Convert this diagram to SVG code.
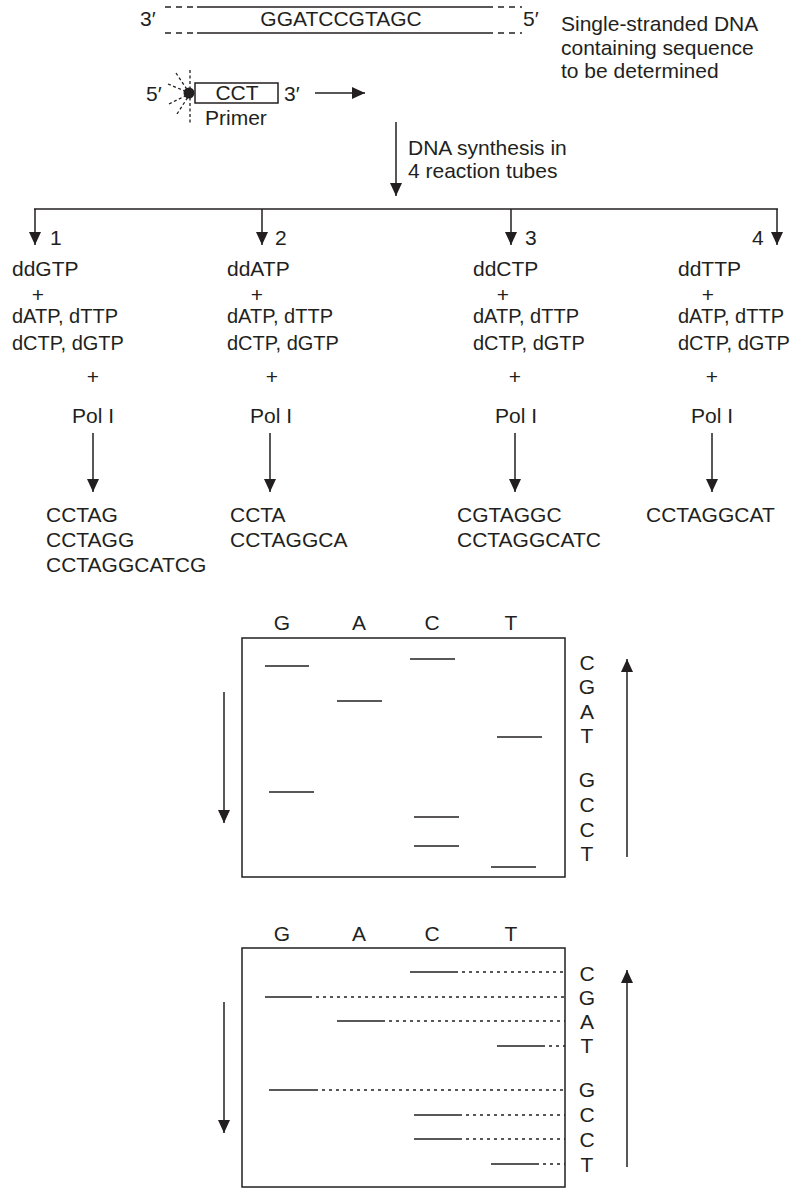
<svg xmlns="http://www.w3.org/2000/svg" width="796" height="1188" viewBox="0 0 796 1188">
<style>
text{font-family:"Liberation Sans",Arial,sans-serif;font-size:21px;fill:#231f20}
text.n{font-size:20px}
.m{text-anchor:middle}
line,rect.b,path.l{stroke:#231f20;stroke-width:1.5;fill:none}
.d{stroke-dasharray:6 5}
.dot{stroke-dasharray:3 4}
.ray{stroke-dasharray:3 2.5;stroke-width:1.3}
</style>
<defs>
<marker id="ah" markerWidth="14" markerHeight="14" refX="13" refY="6" orient="auto" markerUnits="userSpaceOnUse"><path d="M0,0 L13,6 L0,12 z" fill="#231f20"/></marker>
</defs>
<rect x="0" y="0" width="796" height="1188" fill="#fff"/>

<g id="template">
<line x1="197" y1="7" x2="487" y2="7"/>
<line x1="165" y1="7" x2="197" y2="7" class="d"/>
<line x1="487" y1="7" x2="522" y2="7" class="d"/>
<line x1="197" y1="33" x2="487" y2="33"/>
<line x1="165" y1="33" x2="197" y2="33" class="d"/>
<line x1="487" y1="33" x2="522" y2="33" class="d"/>
<text x="140" y="26">3′</text>
<text x="341" y="26" class="m">GGATCCGTAGC</text>
<text x="523" y="26">5′</text>
<text x="561" y="31">Single-stranded DNA</text>
<text x="561" y="55">containing sequence</text>
<text x="561" y="78">to be determined</text>
</g>

<g id="primer">
<line x1="190" y1="70" x2="190" y2="123" class="ray"/>
<line x1="176" y1="73" x2="188" y2="91" class="ray"/>
<line x1="168" y1="84" x2="187" y2="92" class="ray"/>
<line x1="169" y1="104" x2="187" y2="95" class="ray"/>
<line x1="177" y1="114" x2="188" y2="97" class="ray"/>
<circle cx="189" cy="93" r="5.5" fill="#231f20"/>
<rect class="b" x="195" y="83" width="83" height="20"/>
<text x="146" y="101">5′</text>
<text x="237" y="100" class="m">CCT</text>
<text x="284" y="101">3′</text>
<text x="205" y="125">Primer</text>
</g>

<g id="synthesis">
<text x="408" y="155">DNA synthesis in</text>
<text x="408" y="178">4 reaction tubes</text>
</g>

<g id="tube1">
<text x="50" y="245">1</text>
<text x="12" y="276">ddGTP</text>
<text x="38" y="302" class="m">+</text>
<text x="12" y="323" class="n">dATP, dTTP</text>
<text x="12" y="350" class="n">dCTP, dGTP</text>
<text x="93" y="384" class="m">+</text>
<text x="93" y="423" class="m">Pol I</text>
<text x="46" y="522">CCTAG</text>
<text x="46" y="547">CCTAGG</text>
<text x="46" y="572">CCTAGGCATCG</text>
</g>

<g id="tube2">
<text x="275" y="245">2</text>
<text x="227" y="276">ddATP</text>
<text x="257" y="302" class="m">+</text>
<text x="227" y="323" class="n">dATP, dTTP</text>
<text x="227" y="350" class="n">dCTP, dGTP</text>
<text x="272" y="384" class="m">+</text>
<text x="271" y="423" class="m">Pol I</text>
<text x="230" y="522">CCTA</text>
<text x="230" y="547">CCTAGGCA</text>
</g>

<g id="tube3">
<text x="525" y="245">3</text>
<text x="473" y="276">ddCTP</text>
<text x="503" y="302" class="m">+</text>
<text x="473" y="323" class="n">dATP, dTTP</text>
<text x="473" y="350" class="n">dCTP, dGTP</text>
<text x="515" y="384" class="m">+</text>
<text x="516" y="423" class="m">Pol I</text>
<text x="457" y="522">CGTAGGC</text>
<text x="457" y="547">CCTAGGCATC</text>
</g>

<g id="tube4">
<text x="752" y="245">4</text>
<text x="678" y="276">ddTTP</text>
<text x="708" y="302" class="m">+</text>
<text x="678" y="323" class="n">dATP, dTTP</text>
<text x="678" y="350" class="n">dCTP, dGTP</text>
<text x="712" y="384" class="m">+</text>
<text x="712" y="423" class="m">Pol I</text>
<text x="646" y="522">CCTAGGCAT</text>
</g>

<g id="connectors">
<line x1="315" y1="93" x2="365" y2="93" marker-end="url(#ah)"/>
<line x1="396" y1="122" x2="396" y2="196" marker-end="url(#ah)"/>
<line x1="34" y1="209" x2="778" y2="209"/>
<line x1="35" y1="209" x2="35" y2="245" marker-end="url(#ah)"/>
<line x1="262" y1="209" x2="262" y2="245" marker-end="url(#ah)"/>
<line x1="511" y1="209" x2="511" y2="245" marker-end="url(#ah)"/>
<line x1="777" y1="209" x2="777" y2="245" marker-end="url(#ah)"/>
<line x1="93" y1="433" x2="93" y2="492" marker-end="url(#ah)"/>
<line x1="270" y1="433" x2="270" y2="492" marker-end="url(#ah)"/>
<line x1="515" y1="433" x2="515" y2="492" marker-end="url(#ah)"/>
<line x1="712" y1="433" x2="712" y2="492" marker-end="url(#ah)"/>
</g>

<g id="gel1">
<rect class="b" x="242" y="638" width="323" height="239"/>
<text x="282" y="630" class="m">G</text>
<text x="359" y="630" class="m">A</text>
<text x="432" y="630" class="m">C</text>
<text x="511" y="630" class="m">T</text>
<line x1="265" y1="666" x2="309" y2="666"/>
<line x1="410" y1="659" x2="455" y2="659"/>
<line x1="337" y1="701" x2="382" y2="701"/>
<line x1="497" y1="737" x2="542" y2="737"/>
<line x1="269" y1="792" x2="314" y2="792"/>
<line x1="414" y1="817" x2="459" y2="817"/>
<line x1="414" y1="846" x2="459" y2="846"/>
<line x1="491" y1="867" x2="536" y2="867"/>
<text x="587" y="670" class="m">C</text>
<text x="587" y="694" class="m">G</text>
<text x="587" y="719" class="m">A</text>
<text x="587" y="743" class="m">T</text>
<text x="587" y="787" class="m">G</text>
<text x="587" y="812" class="m">C</text>
<text x="587" y="837" class="m">C</text>
<text x="587" y="861" class="m">T</text>
<line x1="224" y1="692" x2="224" y2="823" marker-end="url(#ah)"/>
<line x1="627" y1="857" x2="627" y2="659" marker-end="url(#ah)"/>
</g>

<g id="gel2">
<rect class="b" x="242" y="948" width="323" height="239"/>
<text x="282" y="941" class="m">G</text>
<text x="359" y="941" class="m">A</text>
<text x="432" y="941" class="m">C</text>
<text x="511" y="941" class="m">T</text>
<line x1="410" y1="972" x2="455" y2="972"/><line x1="455" y1="972" x2="565" y2="972" class="dot"/>
<line x1="265" y1="997" x2="309" y2="997"/><line x1="309" y1="997" x2="565" y2="997" class="dot"/>
<line x1="337" y1="1021" x2="382" y2="1021"/><line x1="382" y1="1021" x2="565" y2="1021" class="dot"/>
<line x1="497" y1="1046" x2="542" y2="1046"/><line x1="542" y1="1046" x2="565" y2="1046" class="dot"/>
<line x1="269" y1="1090" x2="315" y2="1090"/><line x1="315" y1="1090" x2="565" y2="1090" class="dot"/>
<line x1="414" y1="1115" x2="459" y2="1115"/><line x1="459" y1="1115" x2="565" y2="1115" class="dot"/>
<line x1="414" y1="1139" x2="459" y2="1139"/><line x1="459" y1="1139" x2="565" y2="1139" class="dot"/>
<line x1="491" y1="1164" x2="536" y2="1164"/><line x1="536" y1="1164" x2="565" y2="1164" class="dot"/>
<text x="587" y="981" class="m">C</text>
<text x="587" y="1005" class="m">G</text>
<text x="587" y="1029" class="m">A</text>
<text x="587" y="1053" class="m">T</text>
<text x="587" y="1097" class="m">G</text>
<text x="587" y="1122" class="m">C</text>
<text x="587" y="1147" class="m">C</text>
<text x="587" y="1172" class="m">T</text>
<line x1="224" y1="1002" x2="224" y2="1133" marker-end="url(#ah)"/>
<line x1="627" y1="1167" x2="627" y2="970" marker-end="url(#ah)"/>
</g>
</svg>
